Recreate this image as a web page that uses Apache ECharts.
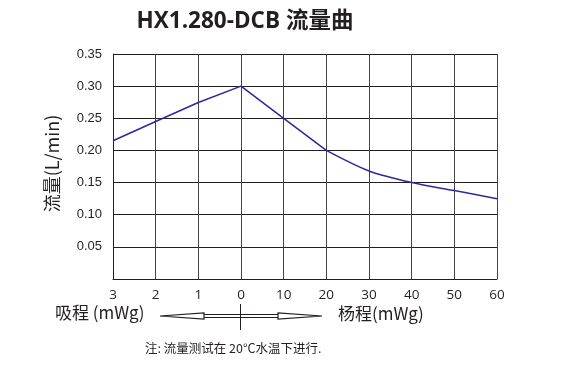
<!DOCTYPE html>
<html>
<head>
<meta charset="utf-8">
<script src="https://cdn.jsdelivr.net/npm/echarts@6/dist/echarts.min.js"></script>
<style>html,body{margin:0;padding:0;background:#fff}#c{width:579px;height:385px}</style>
</head>
<body>
<div id="c"></div>
<script>
// Data
const xTickLabels = ['3', '2', '1', '0', '10', '20', '30', '40', '50', '60'];
const xPositions = [0, 1, 2, 3, 4, 5, 6, 7, 8, 9];
const flowValues = [0.215, 0.245, 0.2745, 0.30, 0.25, 0.20, 0.168, 0.15, 0.1375, 0.125];
const yTicks = [0, 0.05, 0.10, 0.15, 0.20, 0.25, 0.30, 0.35];

const pts = xPositions.map((x, i) => [x, flowValues[i]]);
const straightPart = pts.slice(0, 6);
const curvedPart = pts.slice(5);

const chart = echarts.init(document.getElementById('c'), null, {renderer: 'canvas'});
const lineColor = '#2a2aa0';
chart.setOption({
  animation: false,
  backgroundColor: '#fff',
  title: {
    text: 'HX1.280-DCB 流量曲',
    left: 240, top: 5, textAlign: 'center',
    textStyle: {fontFamily: "'Open Sans', 'Noto Sans CJK SC'", fontWeight: 'bold', fontSize: 22.5, color: '#231f20'}
  },
  grid: {left: 113, right: 82, top: 54, bottom: 106},
  xAxis: {
    type: 'value', min: 0, max: 9, interval: 1,
    axisLine: {show: true, lineStyle: {color: '#231f20', width: 1}},
    axisTick: {show: false},
    splitLine: {show: true, lineStyle: {color: '#444', width: 1}},
    axisLabel: {
      margin: 9, fontFamily: 'Open Sans', fontSize: 13.5, color: '#231f20',
      formatter: v => xTickLabels[Math.round(v)] ?? ''
    }
  },
  yAxis: {
    type: 'value', min: yTicks[0], max: yTicks[yTicks.length - 1], interval: 0.05,
    name: '流量(L/min)', nameLocation: 'middle', nameGap: 52, nameRotate: 90,
    nameTextStyle: {fontFamily: 'Noto Sans CJK SC', fontSize: 18, color: '#231f20', padding: [0, 0, 0, 6]},
    axisLine: {show: true, lineStyle: {color: '#231f20', width: 1}},
    axisTick: {show: false},
    splitLine: {show: true, lineStyle: {color: '#231f20', width: 1}},
    axisLabel: {
      margin: 11, fontFamily: 'Liberation Sans', fontSize: 13, color: '#231f20',
      formatter: v => v === 0 ? '' : v.toFixed(2)
    }
  },
  series: [
    {type: 'line', data: straightPart, symbol: 'none', smooth: false,
     lineStyle: {color: lineColor, width: 1.5}, z: 5},
    {type: 'line', data: curvedPart, symbol: 'none', smooth: 0.3,
     lineStyle: {color: lineColor, width: 1.5}, z: 5}
  ],
  graphic: [
    {type: 'text', left: 55, top: 304, style: {text: '吸程 (mWg)', fontFamily: 'Noto Sans CJK SC', fontSize: 17, fill: '#231f20'}},
    {type: 'text', left: 338, top: 305, style: {text: '杨程(mWg)', fontFamily: 'Noto Sans CJK SC', fontSize: 17, fill: '#231f20'}},
    {type: 'text', left: 145, top: 342, style: {text: '注: 流量测试在 20°C水温下进行.', fontFamily: 'Noto Sans CJK SC', fontSize: 12.5, fill: '#231f20'}},
    {type: 'polygon', shape: {points: [[160, 316], [204, 313], [204, 319]]}, style: {fill: '#fff', stroke: '#231f20', lineWidth: 1.2}},
    {type: 'polygon', shape: {points: [[322, 316], [278, 313], [278, 319]]}, style: {fill: '#fff', stroke: '#231f20', lineWidth: 1.2}},
    {type: 'line', shape: {x1: 204, y1: 314.5, x2: 278, y2: 314.5}, style: {stroke: '#231f20', lineWidth: 1}},
    {type: 'line', shape: {x1: 204, y1: 317.5, x2: 278, y2: 317.5}, style: {stroke: '#231f20', lineWidth: 1}},
    {type: 'line', shape: {x1: 240.5, y1: 304, x2: 240.5, y2: 330}, style: {stroke: '#231f20', lineWidth: 1}}
  ]
});
</script>
</body>
</html>
